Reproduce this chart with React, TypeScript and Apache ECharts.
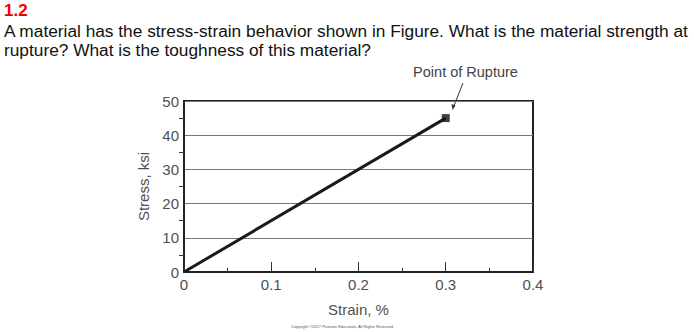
import React, { useEffect, useRef } from "react";
import * as echarts from "echarts";

const xTicks = [0, 0.1, 0.2, 0.3, 0.4];
const yTicks = [0, 10, 20, 30, 40, 50];
const strain = [0, 0.3];
const stress = [0, 45];
const rupture = [0.3, 45];

const titleNum = "1.2";
const line1 = "A material has the stress-strain behavior shown in Figure. What is the material strength at";
const line2 = "rupture? What is the toughness of this material?";

export default function App() {
  const ref = useRef<HTMLDivElement>(null);
  useEffect(() => {
    if (!ref.current) return;
    const chart = echarts.init(ref.current, null, { renderer: "svg" });
    const font = "Liberation Sans";
    const labelColor = "#505050";
    chart.setOption({
      animation: false,
      backgroundColor: "#ffffff",
      grid: {
        left: 184,
        right: 161,
        top: 101,
        bottom: 60,
        show: true,
        borderColor: "#222",
        borderWidth: 2,
      },
      xAxis: {
        type: "value",
        min: xTicks[0],
        max: xTicks[xTicks.length - 1],
        interval: 0.1,
        name: "Strain, %",
        nameLocation: "middle",
        nameGap: 30,
        nameTextStyle: { fontFamily: font, fontSize: 15, color: labelColor },
        axisLine: { lineStyle: { color: "#222", width: 2 } },
        axisTick: { show: true, inside: true, length: 10, lineStyle: { color: "#333", width: 1 } },
        minorTick: { show: true, splitNumber: 2, length: 4, lineStyle: { color: "#333", width: 1 } },
        axisLabel: { fontFamily: font, fontSize: 15, color: labelColor, margin: 5 },
        splitLine: { show: false },
      },
      yAxis: {
        type: "value",
        min: yTicks[0],
        max: yTicks[yTicks.length - 1],
        interval: 10,
        name: "Stress, ksi",
        nameLocation: "middle",
        nameGap: 30,
        nameRotate: 90,
        nameTextStyle: { fontFamily: font, fontSize: 15, color: labelColor },
        axisLine: { show: true, lineStyle: { color: "#222", width: 2 } },
        axisTick: { show: false },
        minorTick: { show: true, splitNumber: 2, length: 5, lineStyle: { color: "#333", width: 1 } },
        axisLabel: { fontFamily: font, fontSize: 15, color: labelColor, margin: 5 },
        splitLine: { show: true, lineStyle: { color: "#777", width: 1 } },
      },
      series: [
        {
          type: "line",
          data: strain.map((s, i) => [s, stress[i]]),
          symbol: "none",
          lineStyle: { color: "#1a1a1a", width: 3 },
          z: 3,
        },
        {
          type: "scatter",
          data: [rupture],
          symbol: "rect",
          symbolSize: 8,
          itemStyle: { color: "#111" },
          z: 4,
        },
      ],
      graphic: [
        {
          type: "text",
          left: 4,
          top: 2,
          style: { text: titleNum, fontFamily: "Liberation Sans", fontWeight: "bold", fontSize: 17, fill: "#ee0000" },
        },
        {
          type: "text",
          left: 4,
          top: 22,
          style: { text: line1, fontFamily: "Liberation Sans", fontSize: 17.3, fill: "#111" },
        },
        {
          type: "text",
          left: 4,
          top: 41,
          style: { text: line2, fontFamily: "Liberation Sans", fontSize: 17.3, fill: "#111" },
        },
        {
          type: "text",
          x: 465.5,
          y: 72,
          style: {
            text: "Point of Rupture",
            fontFamily: font,
            fontSize: 14.5,
            fill: "#444",
            align: "center",
            verticalAlign: "middle",
          },
        },
        {
          type: "line",
          shape: { x1: 463, y1: 83, x2: 453.5, y2: 107 },
          style: { stroke: "#333", lineWidth: 1 },
        },
        {
          type: "polygon",
          shape: { points: [[452.5, 110], [451.5, 104], [455.5, 105.5]] },
          style: { fill: "#333" },
        },
        {
          type: "text",
          x: 342,
          y: 326,
          style: {
            text: "Copyright ©2017 Pearson Education, All Rights Reserved",
            fontFamily: font,
            fontSize: 4,
            fill: "#555",
            align: "center",
            verticalAlign: "middle",
          },
        },
      ],
    });
    return () => chart.dispose();
  }, []);
  return (
    <div
      ref={ref}
      style={{ position: "fixed", left: 0, top: 0, width: 694, height: 332, background: "#fff" }}
    />
  );
}
